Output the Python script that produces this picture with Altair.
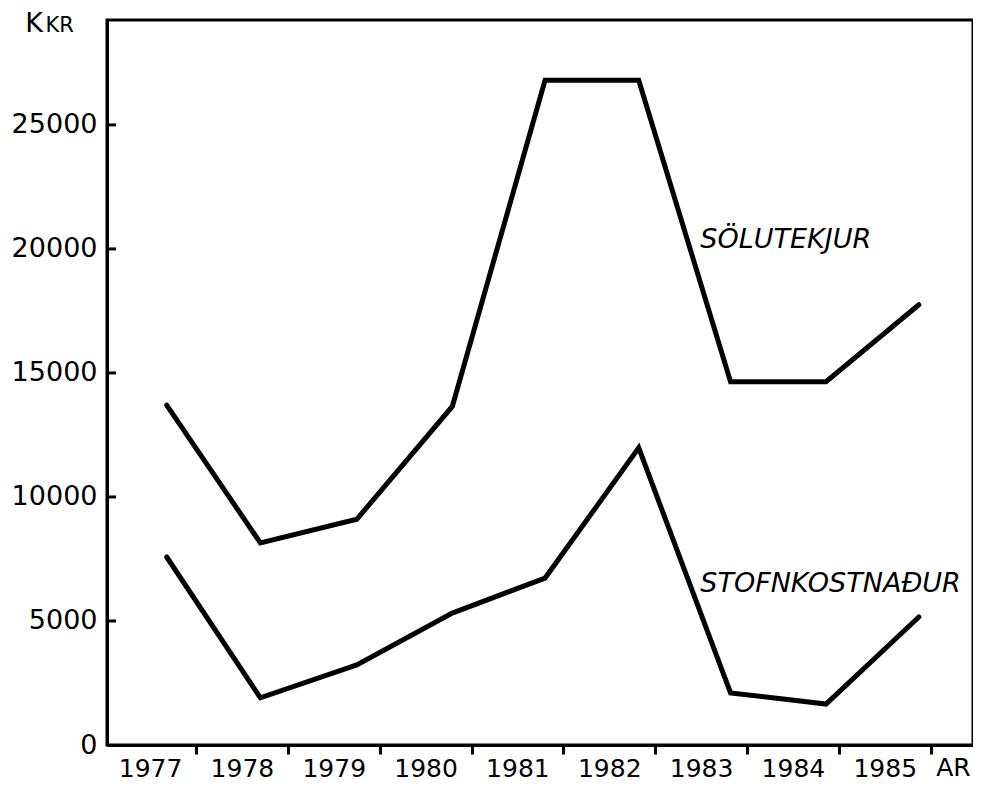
import altair as alt
import pandas as pd

# ---- data ----
year_labels = ["1977", "1978", "1979", "1980", "1981", "1982", "1983", "1984", "1985"]
year_bounds = [1978, 1979, 1980, 1981, 1982, 1983, 1984, 1985, 1986]
x_pos = [1977.68, 1978.70, 1979.75, 1980.79, 1981.80, 1982.82, 1983.82, 1984.86, 1985.87]
solutekjur = [13700, 8150, 9100, 13650, 26800, 26800, 14650, 14650, 17750]
stofnkostnadur = [7580, 1900, 3230, 5320, 6730, 11980, 2100, 1650, 5160]
y_ticks = [0, 5000, 10000, 15000, 20000, 25000]

series_names = ["SÖLUTEKJUR", "STOFNKOSTNAÐUR"]
label_x = [1983.49, 1983.49]
label_y = [20040, 6170]

rows = []
for name, vals in zip(series_names, [solutekjur, stofnkostnadur]):
    for x, v in zip(x_pos, vals):
        rows.append({"series": name, "x": x, "v": v})
df = pd.DataFrame(rows)

X_DOMAIN = [1977.03, 1986.46]
Y_DOMAIN = [0, 29230]
FONT = "DejaVu Sans"

xscale = alt.Scale(domain=X_DOMAIN, nice=False, zero=False)
yscale = alt.Scale(domain=Y_DOMAIN, nice=False, zero=False)

lines = alt.Chart(df).mark_line(color="black", strokeWidth=5, strokeJoin="miter", strokeCap="round").encode(
    x=alt.X("x:Q", scale=xscale, title=None,
            axis=alt.Axis(values=year_bounds, labelExpr="toString(datum.value - 1)",
                          tickSize=9, tickWidth=3, labelOffset=-46, labelPadding=2,
                          labelFontSize=25, labelFont=FONT, domainWidth=3, grid=False,
                          labelColor="black", tickColor="black", domainColor="black")),
    y=alt.Y("v:Q", scale=yscale, title=None,
            axis=alt.Axis(values=y_ticks, format="d", tickSize=0, labelPadding=10,
                          labelFontSize=27, labelFont=FONT, domainWidth=3, grid=False,
                          labelColor="black", domainColor="black")),
    detail="series:N",
)

tick_df = pd.DataFrame({"v": y_ticks[1:]})
inner_ticks = alt.Chart(tick_df).mark_rule(color="black", strokeWidth=3).encode(
    x=alt.value(0), x2=alt.value(9),
    y=alt.Y("v:Q", scale=yscale),
)

lab_df = pd.DataFrame({"t": series_names, "x": label_x, "y": label_y})
series_labels = alt.Chart(lab_df).mark_text(
    align="left", baseline="alphabetic", fontSize=27, fontStyle="italic", font=FONT, color="black"
).encode(x=alt.X("x:Q", scale=xscale), y=alt.Y("y:Q", scale=yscale), text="t:N")

unit_df = pd.DataFrame({"t": ["K", "KR"], "x": [1976.14, 1976.36], "y": [28750, 28750]})
unit_k = alt.Chart(unit_df.iloc[[0]]).mark_text(
    align="left", baseline="alphabetic", fontSize=27, font=FONT, color="black"
).encode(x=alt.X("x:Q", scale=xscale), y=alt.Y("y:Q", scale=yscale), text="t:N")
unit_kr = alt.Chart(unit_df.iloc[[1]]).mark_text(
    align="left", baseline="alphabetic", fontSize=21, font=FONT, color="black"
).encode(x=alt.X("x:Q", scale=xscale), y=alt.Y("y:Q", scale=yscale), text="t:N")

ar_df = pd.DataFrame({"t": ["AR"], "x": [1986.06], "y": [-1250]})
ar_label = alt.Chart(ar_df).mark_text(
    align="left", baseline="alphabetic", fontSize=25, font=FONT, color="black"
).encode(x=alt.X("x:Q", scale=xscale), y=alt.Y("y:Q", scale=yscale), text="t:N")

chart = alt.layer(lines, inner_ticks, series_labels, unit_k, unit_kr, ar_label).properties(
    width=866, height=725,
    autosize=alt.AutoSizeParams(type="none"),
    padding={"left": 99, "top": 12, "right": 0, "bottom": 37},
    background="white",
).configure_view(stroke="black", strokeWidth=3)

chart.save("out.html", embed_options={"renderer": "svg", "actions": False})
